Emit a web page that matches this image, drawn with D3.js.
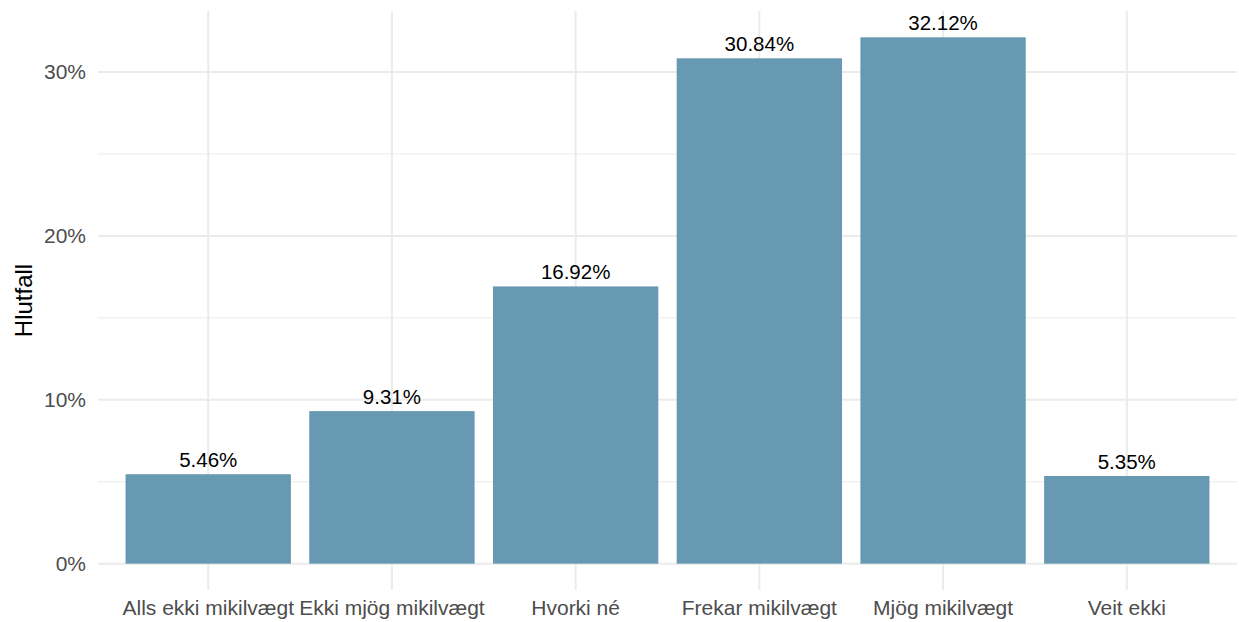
<!DOCTYPE html>
<meta charset="utf-8">
<style>
body { margin: 0; background: #fff; }
svg { font-family: "Liberation Sans", Arial, sans-serif; }
.grid-major line { stroke: #ebebeb; stroke-width: 2px; }
.grid-minor line { stroke: #ebebeb; stroke-width: 1px; }
.tick-label { fill: #4d4d4d; font-size: 21px; }
.bar { fill: #6899b2; }
.bar-label { fill: #000; font-size: 20.5px; }
.axis-title { fill: #000; font-size: 24px; }
</style>
<body>
<script src="https://cdn.jsdelivr.net/npm/d3@7"></script>
<script>
var categories = ["Alls ekki mikilvægt", "Ekki mjög mikilvægt", "Hvorki né",
                  "Frekar mikilvægt", "Mjög mikilvægt", "Veit ekki"];
var shares = [5.46, 9.31, 16.92, 30.84, 32.12, 5.35];
var majorTicks = [0, 10, 20, 30];
var minorTicks = [5, 15, 25];

var width = 1239, height = 622;
var panel = {left: 98, right: 1237, top: 11, bottom: 590};

var svg = d3.select("body").append("svg")
    .attr("width", width)
    .attr("height", height);

// ggplot style expansion of 5% on the continuous axis
var ymax = d3.max(shares);
var pad = ymax * 0.05;
var y = d3.scaleLinear()
    .domain([-pad, ymax + pad])
    .range([panel.bottom, panel.top]);

var x = d3.scaleBand()
    .domain(categories)
    .range([panel.left, panel.right])
    .paddingInner(0.1)
    .paddingOuter(0.15);

var cx = function(d) { return x(d) + x.bandwidth() / 2; };

// minor grid
svg.append("g").attr("class", "grid-minor")
  .selectAll("line")
    .data(minorTicks)
  .enter().append("line")
    .attr("x1", panel.left).attr("x2", panel.right)
    .attr("y1", function(d) { return y(d); })
    .attr("y2", function(d) { return y(d); });

// major grid
var major = svg.append("g").attr("class", "grid-major");
major.selectAll("line.h")
    .data(majorTicks)
  .enter().append("line")
    .attr("class", "h")
    .attr("x1", panel.left).attr("x2", panel.right)
    .attr("y1", function(d) { return y(d); })
    .attr("y2", function(d) { return y(d); });
major.selectAll("line.v")
    .data(categories)
  .enter().append("line")
    .attr("class", "v")
    .attr("y1", panel.top).attr("y2", panel.bottom)
    .attr("x1", cx).attr("x2", cx);

// bars
svg.append("g").selectAll("rect")
    .data(shares)
  .enter().append("rect")
    .attr("class", "bar")
    .attr("x", function(d, i) { return x(categories[i]); })
    .attr("width", x.bandwidth())
    .attr("y", function(d) { return y(d); })
    .attr("height", function(d) { return y(0) - y(d); });

// value labels
svg.append("g").selectAll("text")
    .data(shares)
  .enter().append("text")
    .attr("class", "bar-label")
    .attr("text-anchor", "middle")
    .attr("x", function(d, i) { return cx(categories[i]); })
    .attr("y", function(d) { return y(d) - 7; })
    .text(function(d) { return d.toFixed(2) + "%"; });

// y tick labels
svg.append("g").selectAll("text")
    .data(majorTicks)
  .enter().append("text")
    .attr("class", "tick-label")
    .attr("text-anchor", "end")
    .attr("x", 86)
    .attr("y", function(d) { return y(d) + 7; })
    .text(function(d) { return d + "%"; });

// x tick labels
svg.append("g").selectAll("text")
    .data(categories)
  .enter().append("text")
    .attr("class", "tick-label")
    .attr("text-anchor", "middle")
    .attr("x", cx)
    .attr("y", 615)
    .text(function(d) { return d; });

svg.append("text")
    .attr("class", "axis-title")
    .attr("text-anchor", "middle")
    .attr("transform", "translate(32," + ((panel.top + panel.bottom) / 2) + ") rotate(-90)")
    .text("Hlutfall");
</script>
</body>
